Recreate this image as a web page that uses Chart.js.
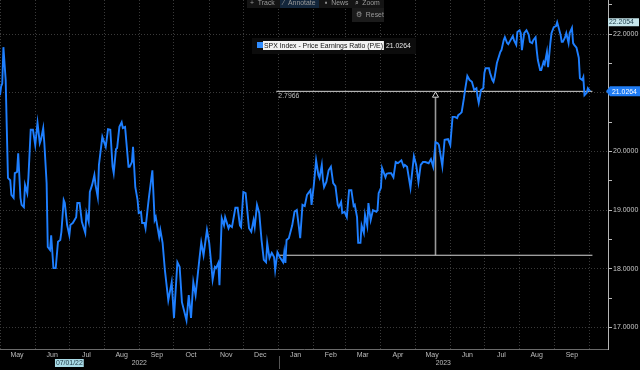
<!DOCTYPE html>
<html>
<head>
<meta charset="utf-8">
<script src="https://cdn.jsdelivr.net/npm/chart.js@4.4.0/dist/chart.umd.min.js"></script>
<style>
  html, body { margin: 0; padding: 0; background: #000; }
  #wrap { width: 640px; height: 370px; position: relative; }
</style>
</head>
<body>
<div id="wrap"><canvas id="peChart"></canvas></div>
<script>
// ==================== DONNEES ====================

// jours comptés depuis le 1er mai 2022
const dayOffsets = [
  0, 1, 2, 3, 5, 6, 7, 9, 10, 12, 13, 15, 16, 18, 19, 21, 22, 24, 25, 27, 29, 31, 33, 35, 36, 38, 39,
  41, 42, 44, 45, 47, 49, 51, 53, 54, 56, 57, 59, 61, 62, 64, 67, 68, 70, 72, 75, 76, 78, 79,
  81, 83, 84, 86, 87, 90, 93, 95, 97, 99, 100, 102, 103, 105, 107, 108, 110, 113, 114, 116, 117, 119,
  121, 122, 124, 125, 127, 128, 130, 131, 134, 136, 137, 140, 141, 143, 145, 148, 151, 153, 156, 158,
  160, 164, 166, 168, 170, 172, 175, 177, 179, 182, 184, 186, 187, 189, 190, 192, 193, 195, 197, 198,
  201, 202, 204, 207, 209, 211, 212, 214, 216, 219, 221, 223, 224, 226, 228, 230, 232, 234, 235, 237,
  239, 241, 242, 244, 246, 249, 250, 251, 252, 254, 257, 259, 261, 263, 264, 266, 268, 270, 273, 274,
  276, 278, 280, 281, 283, 284, 285, 287, 289, 291, 293, 295, 297, 298, 300, 301, 303, 305, 307, 309,
  311, 312, 314, 315, 317, 318, 320, 321, 323, 324, 326, 328, 331, 332, 333, 335, 336, 339, 340, 342,
  344, 346, 348, 350, 353, 355, 356, 358, 361, 362, 364, 366, 368, 370, 372, 374, 377, 379, 381, 383,
  385, 386, 389, 391, 394, 396, 398, 400, 402, 403, 405, 406, 408, 409, 411, 413, 415, 417, 419, 420,
  421, 423, 425, 426, 427, 430, 431, 433, 434, 435, 437, 440, 441, 443, 444, 446, 447, 449, 451, 452,
  454, 455, 457, 458, 459, 461, 463, 465, 466, 468, 469, 471, 472, 473, 475, 476, 478, 479, 481, 482,
  484, 485, 487, 489, 490, 493, 494, 495, 497, 498, 500, 501, 503, 504, 505, 507, 509, 510, 512, 513,
  514, 516, 517, 519
];

const peValues = [
  20.96, 21.11, 21.16, 21.78, 21.22, 20.37, 19.55, 19.51, 19.26, 19.21, 19.63, 19.65, 19.97, 19.21, 19.09, 19.05, 19.43, 19.29, 19.56, 20.37, 20.37, 20.11, 20.49, 20.14, 20.20, 20.40, 20.14,
  19.46, 18.37, 18.32, 18.57, 18.01, 18.01, 18.46, 18.49, 18.63, 19.17, 19.12, 18.75, 18.57, 18.75, 18.78, 18.88, 19.12, 19.12, 18.80, 18.61, 18.95, 18.80, 19.31,
  19.43, 19.60, 19.43, 19.22, 19.77, 20.25, 20.08, 20.38, 20.37, 19.74, 19.63, 20.04, 20.06, 20.42, 20.50, 20.40, 20.42, 19.74, 19.74, 19.82, 20.08, 19.39,
  19.17, 18.95, 18.97, 18.78, 18.78, 18.69, 19.05, 19.22, 19.68, 18.83, 18.88, 18.54, 18.66, 18.44, 17.98, 17.46, 17.77, 17.16, 18.11, 18.03,
  17.43, 17.12, 17.55, 17.16, 17.77, 17.55, 18.10, 18.45, 18.23, 18.66, 18.44, 18.03, 17.81, 18.03, 18.01, 18.10, 17.72, 18.86, 18.74, 18.88,
  18.69, 18.74, 18.71, 19.04, 19.04, 18.74, 18.71, 19.31, 19.29, 18.69, 18.63, 18.83, 18.71, 19.09, 18.95, 18.49, 18.15, 18.11, 18.44, 18.18,
  18.27, 18.20, 17.98, 18.28, 18.20, 18.11, 18.28, 18.10, 18.49, 18.52, 18.74, 18.97, 19.00, 18.69, 18.52, 19.09, 19.07, 19.26, 19.34, 19.09,
  19.43, 19.85, 19.60, 19.55, 19.77, 19.51, 19.39, 19.48, 19.68, 19.74, 19.46, 19.41, 19.09, 19.05, 19.14, 18.95, 18.97, 18.88, 19.34, 19.34,
  19.07, 19.09, 18.88, 18.44, 18.44, 18.74, 18.61, 18.92, 18.73, 19.12, 18.83, 19.00, 18.97, 19.00, 19.29, 19.38, 19.72, 19.56, 19.62, 19.63,
  19.63, 19.56, 19.82, 19.80, 19.85, 19.74, 19.77, 19.74, 19.38, 19.56, 19.92, 19.77, 19.48, 19.77, 19.82, 19.82, 19.80, 19.87, 19.74, 20.16,
  20.14, 20.11, 19.75, 20.20, 20.21, 20.11, 20.59, 20.59, 20.57, 20.62, 20.65, 20.67, 20.91, 21.05, 21.29, 21.22, 21.19, 21.05, 21.08, 20.93,
  20.83, 21.05, 21.08, 21.34, 21.42, 21.42, 21.34, 21.22, 21.19, 21.27, 21.51, 21.70, 21.73, 21.90, 21.95, 21.85, 21.83, 21.90, 21.97, 21.90,
  21.82, 22.04, 22.07, 22.02, 21.73, 22.02, 22.07, 21.99, 21.87, 21.85, 21.90, 21.95, 21.73, 21.56, 21.39, 21.39, 21.53, 21.49, 21.70, 21.44,
  21.85, 22.02, 22.12, 22.14, 22.2054, 21.99, 21.87, 21.87, 21.95, 22.02, 21.85, 22.02, 22.11, 21.85, 21.82, 21.77, 21.60, 21.25, 21.22, 21.27,
  20.96, 21.00, 21.08, 21.0264
];

const monthStarts = [0, 31, 61, 92, 123, 153, 184, 214, 245, 276, 304, 335, 365, 396, 426, 457, 488, 518];
const monthLabels = ['May', 'Jun', 'Jul', 'Aug', 'Sep', 'Oct', 'Nov', 'Dec', 'Jan', 'Feb', 'Mar', 'Apr', 'May', 'Jun', 'Jul', 'Aug', 'Sep', ''];
const yearLabels = ['2022', '2023'];
const yearStarts = [0, 245];
const yTicks = [17, 17.5, 18, 18.5, 19, 19.5, 20, 20.5, 21, 21.5, 22, 22.5];

// annotation de mesure (Bloomberg "Annotate")
const measureFrom = 243;
const measureTo = 521;
const measureAt = 383;
const lowLevel = 18.2298;
const highlightDay = 61; // 07/01/22

const lastValue = peValues[peValues.length - 1];
const maxValue = Math.max(...peValues);
const FONT = "'Liberation Sans', Arial, sans-serif";

// texte un peu condensé, comme la police Bloomberg
function narrowText(ctx, text, x, y, align) {
  const k = 0.86;
  const w = ctx.measureText(text).width * k;
  let left = x;
  if (align === 'center') left = x - w / 2;
  ctx.save();
  ctx.textAlign = 'left';
  ctx.translate(left, y);
  ctx.scale(k, 1);
  ctx.fillText(text, 0, 0);
  ctx.restore();
  return w;
}

// ==================== OVERLAY (barre d'outils, légende, étiquettes) ====================

const overlay = {
  id: 'overlay',
  afterDraw(chart) {
    const ctx = chart.ctx;
    const x = chart.scales.x;
    const y = chart.scales.y;
    ctx.save();
    ctx.textBaseline = 'middle';
    ctx.font = '8px ' + FONT;

    // barre d'outils
    ctx.fillStyle = '#141414';
    ctx.fillRect(247, 0, 137, 8);
    ctx.fillStyle = '#13263b';
    ctx.fillRect(280, 0, 39, 8);
    ctx.fillStyle = '#1b1b1b';
    ctx.fillRect(352, 8, 32, 14);
    ctx.fillStyle = '#9a9a9a';
    narrowText(ctx, '+  Track', 250, 3);
    narrowText(ctx, '⁄  Annotate', 283, 3);
    narrowText(ctx, '▪  News', 325, 3);
    narrowText(ctx, '⌕  Zoom', 355, 3);
    narrowText(ctx, '⚙  Reset', 356, 15);

    // légende
    const legendText = 'SPX Index - Price Earnings Ratio (P/E)';
    const tw = ctx.measureText(legendText).width * 0.86;
    ctx.fillStyle = '#0c0c0c';
    ctx.fillRect(252, 38, 164, 16);
    ctx.fillStyle = '#2f8cff';
    ctx.fillRect(257, 42, 6, 6);
    ctx.fillStyle = '#f2f2f2';
    ctx.fillRect(263, 41, tw + 2, 9);
    ctx.fillStyle = '#111';
    narrowText(ctx, legendText, 264, 45.5);
    ctx.fillStyle = '#e6e6e6';
    narrowText(ctx, lastValue.toFixed(4), 267 + tw, 45.5);

    // écart mesuré
    ctx.fillStyle = '#bdbdbd';
    narrowText(ctx, (lastValue - lowLevel).toFixed(4), x.getPixelForValue(measureFrom) + 2, 95.5);

    // étiquettes de l'axe de droite
    const yMax = y.getPixelForValue(maxValue);
    ctx.fillStyle = '#c6e6ec';
    ctx.fillRect(608, yMax - 4, 31, 8);
    ctx.fillStyle = '#23404d';
    narrowText(ctx, maxValue.toFixed(4), 609, yMax);

    const yLast = y.getPixelForValue(lastValue);
    ctx.fillStyle = '#1f7cf5';
    ctx.beginPath();
    ctx.moveTo(606, yLast);
    ctx.lineTo(610, yLast - 5);
    ctx.lineTo(640, yLast - 5);
    ctx.lineTo(640, yLast + 5);
    ctx.lineTo(610, yLast + 5);
    ctx.closePath();
    ctx.fill();
    ctx.fillStyle = '#fff';
    narrowText(ctx, lastValue.toFixed(4), 612, yLast);

    // années et date surlignée
    const rowY = 363;
    ctx.fillStyle = '#bdbdbd';
    const ends = [yearStarts[1], x.max];
    yearLabels.forEach((lbl, i) => {
      const mid = (x.getPixelForValue(yearStarts[i]) + x.getPixelForValue(ends[i])) / 2;
      narrowText(ctx, lbl, mid, rowY, 'center');
    });
    const sep = x.getPixelForValue(yearStarts[1]);
    ctx.strokeStyle = '#555';
    ctx.lineWidth = 1;
    ctx.beginPath();
    ctx.moveTo(Math.round(sep) + 0.5, 356);
    ctx.lineTo(Math.round(sep) + 0.5, 369);
    ctx.stroke();

    const hx = x.getPixelForValue(highlightDay);
    const dateText = '07/01/22';
    const dw = ctx.measureText(dateText).width * 0.86;
    ctx.fillStyle = '#a9dbe6';
    ctx.fillRect(hx - dw / 2 - 1, rowY - 4, dw + 2, 8);
    ctx.fillStyle = '#1c3642';
    narrowText(ctx, dateText, hx, rowY, 'center');

    ctx.restore();
  }
};

// ==================== GRAPHIQUE ====================

const ctx = document.getElementById('peChart').getContext('2d');
const peLine = dayOffsets.map((d, i) => ({ x: d, y: peValues[i] }));

new Chart(ctx, {
  type: 'line',
  data: {
    datasets: [
      {
        label: 'SPX Index - Price Earnings Ratio (P/E)',
        data: peLine,
        borderColor: '#1e7fff',
        borderWidth: 1.9,
        pointRadius: 0,
        tension: 0
      },
      {
        data: [{ x: measureFrom, y: lastValue }, { x: measureTo, y: lastValue }],
        borderColor: '#d6d6d6',
        borderWidth: 1,
        pointRadius: 0
      },
      {
        data: [{ x: measureFrom, y: lowLevel }, { x: measureTo, y: lowLevel }],
        borderColor: '#d6d6d6',
        borderWidth: 1,
        pointRadius: 0
      },
      {
        data: [{ x: measureAt, y: lowLevel }, { x: measureAt, y: lastValue - 0.07 }],
        borderColor: '#9a9a9a',
        borderWidth: 1.6,
        pointRadius: [0, 3.5],
        pointStyle: 'triangle',
        pointBackgroundColor: '#000',
        pointBorderColor: '#d6d6d6',
        pointBorderWidth: 1
      }
    ]
  },
  options: {
    responsive: true,
    maintainAspectRatio: false,
    animation: false,
    layout: { padding: 0, autoPadding: false },
    plugins: {
      legend: { display: false },
      tooltip: { enabled: false }
    },
    scales: {
      x: {
        type: 'linear',
        min: 0,
        max: 534.7,
        afterBuildTicks: scale => { scale.ticks = monthStarts.map(v => ({ value: v })); },
        afterFit: scale => { scale.height = 21; scale.paddingLeft = 0; scale.paddingRight = 0; },
        grid: { color: '#3a3a3a', drawTicks: false },
        border: { display: true, color: '#6a6a6a', dash: [1, 2] },
        ticks: {
          autoSkip: false,
          maxRotation: 0,
          padding: 2,
          labelOffset: 17,
          color: '#bdbdbd',
          font: { family: FONT, size: 7 },
          callback: (v, i) => monthLabels[i]
        }
      },
      y: {
        position: 'right',
        min: 16.63,
        max: 22.585,
        afterBuildTicks: scale => { scale.ticks = yTicks.map(v => ({ value: v })); },
        afterFit: scale => { scale.width = 32; scale.paddingTop = 0; scale.paddingBottom = 0; },
        grid: {
          color: c => (c.tick && c.tick.value % 1 === 0 ? '#3a3a3a' : 'rgba(0,0,0,0)'),
          tickColor: '#bbbbbb',
          tickLength: 4
        },
        border: { display: true, color: '#b5b5b5', dash: [1, 2] },
        ticks: {
          padding: 1,
          color: '#c8c8c8',
          font: { family: FONT, size: 7 },
          callback: v => (v % 1 === 0 ? v.toFixed(4) : '')
        }
      }
    }
  },
  plugins: [overlay]
});
</script>
</body>
</html>
